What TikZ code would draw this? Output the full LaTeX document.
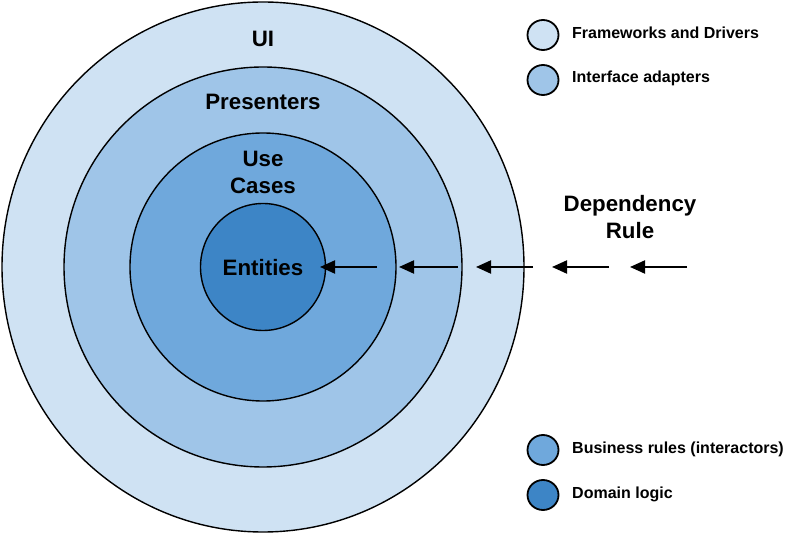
\documentclass[tikz,border=0pt]{standalone}
\usepackage{fontspec}
\setmainfont{Liberation Sans}
\usetikzlibrary{shapes.geometric,arrows.meta}
\definecolor{cFW}{HTML}{CFE2F3}
\definecolor{cIA}{HTML}{9FC5E8}
\definecolor{cBR}{HTML}{6FA8DC}
\definecolor{cDL}{HTML}{3D85C6}
\tikzset{
  ring/.style={ellipse,draw=black,line width=1.4pt,inner sep=0pt},
  big/.style={font=\fontsize{22.3}{27}\selectfont\bfseries,align=center,inner sep=0pt},
  legdot/.style={ellipse,draw=black,line width=1.8pt,minimum width=31pt,minimum height=30pt,inner sep=0pt},
  legtxt/.style={font=\fontsize{16}{18}\selectfont\bfseries,anchor=west,inner sep=0pt},
  dep/.style={line width=2pt,-{Triangle[length=15pt,width=13pt]}}
}
\begin{document}
\begin{tikzpicture}[x=1pt,y=-1pt]
\useasboundingbox (0,0) rectangle (785,534);
% rings
\node[ring,fill=cFW,minimum width=522pt,minimum height=530pt] (fw) at (263,267) {};
\node[ring,fill=cIA,minimum width=398pt,minimum height=400pt] (ia) at (263,267) {};
\node[ring,fill=cBR,minimum width=266pt,minimum height=268pt] (br) at (263,267) {};
\node[ring,fill=cDL,minimum width=125pt,minimum height=127pt] (dl) at (263,267) {};
% labels
\node[big] (ui) at (263,39) {UI};
\node[big] (pres) at (263,102) {Presenters};
\node[big] (uc) at (263,172) {Use\\Cases};
\node[big] (ent) at (263,268) {Entities};
\node[big] (rule) at (630,217) {Dependency\\Rule};
% dependency arrows
\coordinate (t1) at (377,267); \coordinate (h1) at (320,267);
\coordinate (t2) at (458,267); \coordinate (h2) at (399,267);
\coordinate (t3) at (533,267); \coordinate (h3) at (476,267);
\coordinate (t4) at (609,267); \coordinate (h4) at (552,267);
\coordinate (t5) at (687,267); \coordinate (h5) at (630,267);
\draw[dep] (t1) -- (h1);
\draw[dep] (t2) -- (h2);
\draw[dep] (t3) -- (h3);
\draw[dep] (t4) -- (h4);
\draw[dep] (t5) -- (h5);
% legend
\node[legdot,fill=cFW] (l1) at (543,35) {};
\node[legdot,fill=cIA] (l2) at (543,80) {};
\node[legdot,fill=cBR] (l3) at (543,450) {};
\node[legdot,fill=cDL] (l4) at (543,495) {};
\node[legtxt] (lt1) at (572,33) {Frameworks and Drivers};
\node[legtxt] (lt2) at (572,78) {Interface adapters};
\node[legtxt] (lt3) at (572,449) {Business rules (interactors)};
\node[legtxt] (lt4) at (572,494) {Domain logic};
\end{tikzpicture}
\end{document}
